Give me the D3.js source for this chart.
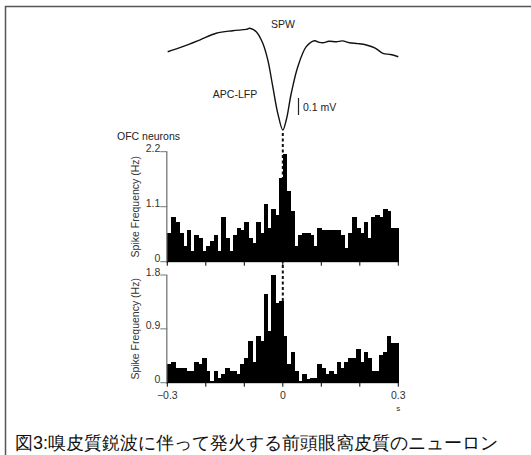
<!DOCTYPE html>
<html>
<head>
<meta charset="utf-8">
<script src="https://cdn.jsdelivr.net/npm/d3@7"></script>
<style>
  body { margin: 0; background: #fff; }
  text { font-family: "Liberation Sans", Arial, sans-serif; }
</style>
</head>
<body>
<div id="chart"></div>
<script>
// Spike histograms of OFC neurons around APC sharp waves (10 ms bins, -0.3 .. 0.3 s)
const binWidth = 0.01;
const binStarts = d3.range(60).map(i => -0.3 + i * binWidth);

const topRates = [
    0.57, 0.89, 0.79, 0.57, 0.31, 0.63, 0.21, 0.53, 0.47, 0.21,
    0.31, 0.42, 0.53, 0.21, 0.89, 0.47, 0.21, 0.53, 0.68, 0.63,
    0.79, 0.47, 0.37, 0.79, 0.58, 1.15, 0.68, 1.05, 0.94, 1.68,
    2.15, 1.42, 1.01, 0.31, 0.53, 0.58, 0.58, 0.53, 0.31, 0.68,
    0.63, 0.63, 0.63, 0.63, 0.63, 0.53, 0.27, 0.58, 0.89, 0.68,
    0.58, 0.79, 0.47, 0.89, 0.94, 0.89, 1.05, 1.01, 0.68, 0.68
];

const bottomRates = [
    0.31, 0.35, 0.25, 0.25, 0.25, 0.20, 0.20, 0.35, 0.31, 0.41,
    0.20, 0.03, 0.20, 0.08, 0.15, 0.25, 0.20, 0.20, 0.15, 0.31,
    0.41, 0.69, 0.35, 0.78, 0.69, 1.48, 0.87, 1.80, 1.33, 1.36,
    0.78, 0.31, 0.52, 0.20, 0.03, 0.15, 0.07, 0.08, 0.08, 0.31,
    0.25, 0.15, 0.20, 0.15, 0.35, 0.25, 0.35, 0.41, 0.41, 0.56,
    0.35, 0.52, 0.41, 0.20, 0.20, 0.46, 0.52, 0.78, 0.67, 0.67
];

// averaged APC-LFP (mV, relative) around the sharp wave
const lfpTime = [
    -0.299, -0.26, -0.216, -0.173, -0.13, -0.095, -0.086, -0.069, -0.052, -0.039,
    -0.026, -0.013, 0.0, 0.009, 0.022, 0.039, 0.061, 0.082, 0.094, 0.104,
    0.12, 0.139, 0.155, 0.173, 0.195, 0.217, 0.24, 0.26, 0.28, 0.3
];
const lfpValue = [
    -0.134, -0.104, -0.065, -0.025, -0.010, -0.002, 0.004, -0.016, -0.084, -0.182,
    -0.339, -0.496, -0.594, -0.535, -0.378, -0.222, -0.104, -0.069, -0.078, -0.081,
    -0.072, -0.075, -0.070, -0.081, -0.086, -0.094, -0.112, -0.143, -0.150, -0.163
];

const topTicks = [0, 1.1, 2.2];
const bottomTicks = [0, 0.9, 1.8];
const xTicks = [-0.3, -0.2, -0.1, 0, 0.1, 0.2, 0.3];
const xLabels = [-0.3, 0, 0.3];

const width = 531;
const height = 455;

const svg = d3.create("svg")
    .attr("width", width)
    .attr("height", height);

// frame
svg.append("path")
    .attr("d", "M5.5,455 V6.5 H531")
    .attr("fill", "none")
    .attr("stroke", "#555")
    .attr("stroke-width", 1.5);

const x = d3.scaleLinear().domain([-0.3, 0.3]).range([167.3, 398.3]);
const yTop = d3.scaleLinear().domain([0, 2.2]).range([261.7, 151.7]);
const yBot = d3.scaleLinear().domain([0, 1.8]).range([382.7, 275]);
const yLfp = d3.scaleLinear().domain([0, 0.1]).range([29, 12]);

// LFP trace
const lfp = lfpTime.map((t, i) => [t, lfpValue[i]]);
svg.append("path")
    .datum(lfp)
    .attr("fill", "none")
    .attr("stroke", "#111")
    .attr("stroke-width", 1.4)
    .attr("d", d3.line()
        .x(d => x(d[0]))
        .y(d => yLfp(d[1]))
        .curve(d3.curveCatmullRom));

svg.append("text").attr("x", 283).attr("y", 28)
    .attr("text-anchor", "middle").attr("font-size", 10.5).attr("fill", "#222")
    .text("SPW");
svg.append("text").attr("x", 235).attr("y", 98)
    .attr("text-anchor", "middle").attr("font-size", 10.5).attr("fill", "#222")
    .text("APC-LFP");

// scale bar 0.1 mV (starts at y = 98)
const barTop = 98;
svg.append("line")
    .attr("x1", 298.5).attr("x2", 298.5)
    .attr("y1", barTop).attr("y2", barTop + (yLfp(0) - yLfp(0.1)))
    .attr("stroke", "#222").attr("stroke-width", 1.2);
svg.append("text").attr("x", 303).attr("y", 111)
    .attr("font-size", 10.5).attr("fill", "#222")
    .text("0.1 mV");

// dashed line at time 0
svg.append("line")
    .attr("x1", x(0)).attr("x2", x(0))
    .attr("y1", yLfp(-0.594) + 3).attr("y2", yBot(0))
    .attr("stroke", "#111")
    .attr("stroke-width", 2)
    .attr("stroke-dasharray", "3,2.5");

function histogram(rates, y, ticks, labelY) {
    const g = svg.append("g");

    g.selectAll("rect")
        .data(rates)
        .join("rect")
        .attr("x", (d, i) => x(binStarts[i]))
        .attr("width", (d, i) => x(binStarts[i] + binWidth) - x(binStarts[i]) + 0.8)
        .attr("y", d => y(d))
        .attr("height", d => y(0) - y(d))
        .attr("fill", "#000")
        .attr("shape-rendering", "crispEdges");

    // y axis
    g.append("line")
        .attr("x1", x(-0.3) - 0.5).attr("x2", x(-0.3) - 0.5)
        .attr("y1", y(ticks[ticks.length - 1])).attr("y2", y(0) + 1)
        .attr("stroke", "#777").attr("stroke-width", 1.3);

    g.selectAll(".ytick")
        .data(ticks)
        .join("line")
        .attr("x1", x(-0.3) - 7).attr("x2", x(-0.3))
        .attr("y1", d => y(d)).attr("y2", d => y(d))
        .attr("stroke", "#777");

    g.selectAll(".ylab")
        .data(ticks)
        .join("text")
        .attr("x", x(-0.3) - 7)
        .attr("y", d => y(d) + 0.5)
        .attr("text-anchor", "end")
        .attr("font-size", 10.5)
        .attr("fill", "#333")
        .text(d => d === 0 ? "0" : d3.format(".1f")(d));

    // x axis
    g.append("line")
        .attr("x1", x(-0.3)).attr("x2", x(0.3))
        .attr("y1", y(0)).attr("y2", y(0))
        .attr("stroke", "#000");

    g.selectAll(".xtick")
        .data(xTicks)
        .join("line")
        .attr("x1", d => x(d)).attr("x2", d => x(d))
        .attr("y1", y(0)).attr("y2", y(0) + 4)
        .attr("stroke", "#000");

    g.append("text")
        .attr("transform", `translate(${labelY},${(y(0) + y(ticks[ticks.length - 1])) / 2}) rotate(-90)`)
        .attr("text-anchor", "middle")
        .attr("font-size", 10.5)
        .attr("fill", "#333")
        .text("Spike Frequency (Hz)");
}

svg.append("text").attr("x", 117).attr("y", 139.5)
    .attr("font-size", 10.5).attr("fill", "#222")
    .text("OFC neurons");

histogram(topRates, yTop, topTicks, 139);
histogram(bottomRates, yBot, bottomTicks, 139);

svg.selectAll(".xlab")
    .data(xLabels)
    .join("text")
    .attr("x", d => x(d))
    .attr("y", 399)
    .attr("text-anchor", "middle")
    .attr("font-size", 10.5)
    .attr("fill", "#333")
    .text(d => d === 0 ? "0" : d3.format(".1f")(d));

svg.append("text").attr("x", x(0.3)).attr("y", 411)
    .attr("text-anchor", "middle").attr("font-size", 8).attr("fill", "#333")
    .text("s");

// caption
svg.append("text")
    .attr("x", 15).attr("y", 449)
    .attr("font-family", "'Noto Sans CJK JP', sans-serif")
    .attr("font-size", 18)
    .attr("fill", "#111")
    .text("図3:嗅皮質鋭波に伴って発火する前頭眼窩皮質のニューロン");

document.getElementById("chart").appendChild(svg.node());
</script>
</body>
</html>
